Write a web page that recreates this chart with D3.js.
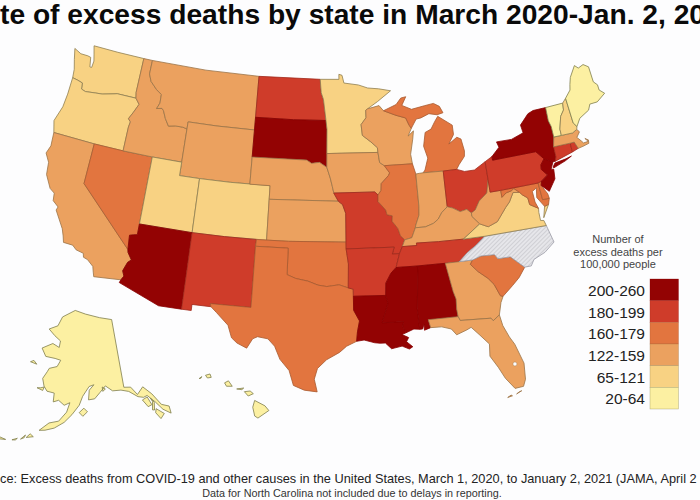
<!DOCTYPE html>
<html>
<head>
<meta charset="utf-8">
<script src="https://cdn.jsdelivr.net/npm/d3@7"></script>
<style>
html, body { margin: 0; padding: 0; background: #fdfdfe; overflow: hidden; }
text { font-family: "Liberation Sans", Arial, sans-serif; }
</style>
</head>
<body>
<svg id="chart" width="700" height="500"></svg>
<script>
// the reference is cropped at both sides, these are the parts that can be seen
var title_text = "te of excess deaths by state in March 2020-Jan. 2, 20";
var source_text = "ce: Excess deaths from COVID-19 and other causes in the United States, March 1, 2020, to January 2, 2021 (JAMA, April 2";
var note_text = "Data for North Carolina not included due to delays in reporting.";
var legend_title = ["Number of", "excess deaths per", "100,000 people"];

var legend_labels = ["200-260", "180-199", "160-179", "122-159", "65-121", "20-64"];
var legend_colors = ["#930303", "#cf3c2a", "#e2753f", "#eba15f", "#f8d283", "#fcf0a2"];
var border_colors = ["#880000", "#a02a1c", "#a85a30", "#9a7448", "#8f7f52", "#7f7d4c"];
var bin_starts = [65, 122, 160, 180, 200];

// the picture only shows bins, so each value is an estimate inside its bin
var state_ids = ["WA", "OR", "CA", "NV", "ID", "MT", "WY", "UT", "CO", "AZ", "NM", "ND", "SD", "NE", "KS", "OK", "TX", "MN", "IA", "MO", "AR", "LA", "WI", "IL", "MI", "IN", "OH", "KY", "TN", "MS", "AL", "GA", "FL", "SC", "NC", "VA", "WV", "MD", "DE", "PA", "NJ", "NY", "CT", "RI", "MA", "VT", "NH", "ME", "AK", "HI"];
var state_rates = [90, 100, 130, 170, 135, 140, 140, 95, 100, 230, 190, 195, 240, 135, 140, 165, 170, 110, 140, 185, 190, 240, 140, 170, 170, 145, 185, 150, 190, 250, 240, 150, 140, 175, null, 110, 150, 165, 160, 195, 250, 225, 190, 185, 150, 40, 90, 50, 30, 25];

var state_rings = {
    WA: [[[-124.7,48.4],[-123.9,48.15],[-123.1,48.15],[-122.75,48.1],[-122.55,47.4],[-122.35,47.4],[-122.3,47.9],[-122.5,48.4],[-122.75,49],[-120,49],[-117.03,49],[-117.04,46.42],[-116.92,45.995],[-118.98,46],[-119.3,45.93],[-120.5,45.7],[-121.2,45.65],[-122.3,45.55],[-122.75,45.65],[-122.85,46.1],[-123.4,46.2],[-124,46.27],[-124.1,46.9],[-124.4,47.6]]],
    OR: [[[-124,46.27],[-123.4,46.2],[-122.85,46.1],[-122.75,45.65],[-122.3,45.55],[-121.2,45.65],[-120.5,45.7],[-119.3,45.93],[-118.98,46],[-116.92,45.995],[-116.46,45.6],[-116.85,44.95],[-117.22,44.4],[-116.95,44.2],[-117.03,43.8],[-117.03,42],[-120,42],[-124.21,42],[-124.55,42.84],[-124.1,44],[-124,45]]],
    CA: [[[-124.21,42],[-120,42],[-120,39],[-114.63,35],[-114.57,34.8],[-114.14,34.3],[-114.43,34.08],[-114.72,33.4],[-114.52,33.03],[-114.72,32.72],[-117.12,32.53],[-117.25,32.85],[-117.4,33.25],[-118,33.65],[-118.4,33.75],[-118.5,34.03],[-119.2,34.15],[-119.6,34.42],[-120.47,34.45],[-120.65,34.9],[-120.9,35.4],[-121.9,36.6],[-121.8,36.85],[-122.4,37.2],[-122.5,37.75],[-123,38],[-123.7,38.9],[-123.85,39.8],[-124.35,40.4],[-124.1,41]]],
    NV: [[[-120,42],[-117.03,42],[-114.04,42],[-114.04,37],[-114.04,36.2],[-114.37,36.14],[-114.74,36.05],[-114.63,35],[-120,39]]],
    ID: [[[-117.03,49],[-116.05,49],[-116.05,47.97],[-115.72,47.45],[-114.95,46.93],[-114.35,46.65],[-114.32,46],[-114.56,45.56],[-114,45.65],[-113.8,45.5],[-113.45,44.95],[-113,44.45],[-112.3,44.55],[-111.5,44.55],[-111.05,44.47],[-111.05,42],[-114.04,42],[-117.03,42],[-117.03,43.8],[-116.95,44.2],[-117.22,44.4],[-116.85,44.95],[-116.46,45.6],[-116.92,45.995],[-117.04,46.42]]],
    MT: [[[-116.05,49],[-110,49],[-104.05,49],[-104.05,45.94],[-104.05,45],[-108,45],[-111.05,45],[-111.05,44.47],[-111.5,44.55],[-112.3,44.55],[-113,44.45],[-113.45,44.95],[-113.8,45.5],[-114,45.65],[-114.56,45.56],[-114.32,46],[-114.35,46.65],[-114.95,46.93],[-115.72,47.45],[-116.05,47.97]]],
    WY: [[[-111.05,45],[-108,45],[-104.05,45],[-104.05,43],[-104.05,41],[-102.05,41],[-106,41],[-109.05,41],[-111.05,41],[-111.05,42],[-111.05,44.47]]],
    UT: [[[-114.04,42],[-111.05,42],[-111.05,41],[-109.05,41],[-109.05,37],[-114.04,37]]],
    CO: [[[-109.05,41],[-106,41],[-102.05,41],[-102.05,40],[-102.05,37],[-106,37],[-109.05,37]]],
    AZ: [[[-114.04,37],[-109.05,37],[-109.05,31.33],[-111.07,31.33],[-114.81,32.5],[-114.72,32.72],[-114.52,33.03],[-114.72,33.4],[-114.43,34.08],[-114.14,34.3],[-114.57,34.8],[-114.63,35],[-114.74,36.05],[-114.37,36.14],[-114.04,36.2]]],
    NM: [[[-109.05,37],[-106,37],[-103,37],[-103.04,36.5],[-103.04,32],[-106.62,32],[-106.53,31.78],[-108.2,31.78],[-108.2,31.33],[-109.05,31.33]]],
    ND: [[[-104.05,49],[-97.23,49],[-97.1,48],[-96.85,47.5],[-96.56,45.94],[-100,45.94],[-104.05,45.94]]],
    SD: [[[-104.05,45.94],[-100,45.94],[-96.56,45.94],[-96.45,45.3],[-96.45,43.5],[-96.45,42.49],[-97.2,42.85],[-98,42.77],[-98.5,43],[-104.05,43],[-104.05,45]]],
    NE: [[[-104.05,43],[-98.5,43],[-98,42.77],[-97.2,42.85],[-96.45,42.49],[-96.1,41.7],[-95.9,41.1],[-95.75,40.6],[-95.31,40],[-102.05,40],[-102.05,41],[-104.05,41]]],
    KS: [[[-102.05,40],[-95.31,40],[-94.9,39.75],[-94.61,39.11],[-94.62,37],[-100,37],[-102.05,37]]],
    OK: [[[-103,37],[-100,37],[-94.62,37],[-94.62,36.5],[-94.43,35.4],[-94.48,33.64],[-95.3,33.88],[-96.4,33.75],[-97.2,33.85],[-98.1,34.13],[-99.2,34.3],[-100,34.56],[-100,36.5],[-103.04,36.5]]],
    TX: [[[-103.04,36.5],[-100,36.5],[-100,34.56],[-99.2,34.3],[-98.1,34.13],[-97.2,33.85],[-96.4,33.75],[-95.3,33.88],[-94.48,33.64],[-94.04,33.55],[-94.04,33.02],[-94.04,31.99],[-93.55,31.2],[-93.75,30.4],[-93.84,29.7],[-94.7,29.35],[-95.3,28.9],[-96.4,28.35],[-97.15,27.7],[-97.4,26.9],[-97.15,25.96],[-98.2,26.07],[-99.1,26.4],[-99.5,27.5],[-100.3,28.3],[-100.8,29.25],[-101.4,29.77],[-102.3,29.88],[-102.7,29.7],[-103.15,28.98],[-104,29.3],[-104.5,29.65],[-104.9,30.55],[-106,31.4],[-106.53,31.78],[-106.62,32],[-103.04,32]]],
    MN: [[[-97.23,49],[-95.15,49],[-95.15,49.38],[-94.8,49.3],[-94.6,48.72],[-93,48.55],[-92,48.3],[-90.8,48.2],[-89.5,48],[-91,47.25],[-92.1,46.75],[-92.3,46.65],[-92.3,46.1],[-92.85,45.6],[-92.75,44.8],[-91.9,44.3],[-91.25,43.85],[-91.22,43.5],[-96.45,43.5],[-96.45,45.3],[-96.56,45.94],[-96.85,47.5],[-97.1,48]]],
    IA: [[[-96.45,43.5],[-91.22,43.5],[-91.1,42.75],[-90.64,42.5],[-90.15,41.95],[-90.3,41.75],[-91.05,41.2],[-91.1,40.7],[-91.42,40.38],[-91.73,40.61],[-95.75,40.6],[-95.9,41.1],[-96.1,41.7],[-96.45,42.49]]],
    MO: [[[-95.75,40.6],[-91.73,40.61],[-91.42,40.38],[-91.45,39.9],[-90.75,39.25],[-90.65,38.9],[-90.15,38.8],[-90.2,38.4],[-89.7,37.85],[-89.5,37.3],[-89.13,36.98],[-89.4,36.5],[-89.7,36],[-90.37,36],[-90.15,36.5],[-94.62,36.5],[-94.62,37],[-94.61,39.11],[-94.9,39.75],[-95.31,40]]],
    AR: [[[-94.62,36.5],[-90.15,36.5],[-90.37,36],[-89.7,36],[-90.1,35],[-90.6,34.6],[-91.1,33.9],[-91.17,33],[-94.04,33.02],[-94.04,33.55],[-94.48,33.64],[-94.43,35.4]]],
    LA: [[[-94.04,33.02],[-91.17,33],[-91,32.4],[-91.6,31],[-89.73,31],[-89.85,30.65],[-89.55,30.18],[-89.95,30.05],[-89.4,29.8],[-89.6,29.5],[-89.1,29.1],[-89.4,28.95],[-90,29.2],[-90.9,29.05],[-91.4,29.5],[-91.85,29.5],[-92.3,29.55],[-93.2,29.78],[-93.84,29.7],[-93.75,30.4],[-93.55,31.2],[-94.04,31.99]]],
    WI: [[[-92.3,46.65],[-92.1,46.75],[-90.85,46.95],[-90.4,46.55],[-89.1,46.15],[-88.1,45.9],[-87.8,45.35],[-87.6,45.1],[-88,44.55],[-87.4,44.9],[-87.55,44.3],[-87.9,43.2],[-87.8,42.49],[-90.64,42.5],[-91.1,42.75],[-91.22,43.5],[-91.25,43.85],[-91.9,44.3],[-92.75,44.8],[-92.85,45.6],[-92.3,46.1]]],
    IL: [[[-90.64,42.5],[-87.8,42.49],[-87.55,41.72],[-87.53,39.35],[-87.6,38.7],[-87.98,38],[-88.05,37.8],[-88.45,37.1],[-89.13,36.98],[-89.5,37.3],[-89.7,37.85],[-90.2,38.4],[-90.15,38.8],[-90.65,38.9],[-90.75,39.25],[-91.45,39.9],[-91.42,40.38],[-91.1,40.7],[-91.05,41.2],[-90.3,41.75],[-90.15,41.95]]],
    MI: [[[-86.82,41.76],[-84.8,41.73],[-83.45,41.73],[-83.15,42.05],[-82.5,42.6],[-82.42,43],[-82.6,43.9],[-83,44.07],[-83.9,43.65],[-83.3,44.3],[-83.3,45],[-84.7,45.78],[-85.1,45.4],[-85.55,44.9],[-86.2,44.7],[-86.5,43.7],[-86.2,42.8],[-86.6,41.95]],
        [[-90.4,46.55],[-89,46.95],[-88.45,47.4],[-87.9,47.47],[-88.4,46.85],[-87.4,46.5],[-86,46.67],[-85,46.77],[-84.4,46.5],[-84.1,46],[-84.75,45.9],[-85.6,46.05],[-86.5,45.8],[-87,45.75],[-87.6,45.1],[-87.8,45.35],[-88.1,45.9],[-89.1,46.15]]],
    IN: [[[-87.55,41.72],[-87.2,41.75],[-86.82,41.76],[-84.8,41.73],[-84.82,39.1],[-85.4,38.73],[-85.8,38.28],[-86.3,38],[-87.1,37.8],[-88.05,37.8],[-87.98,38],[-87.6,38.7],[-87.53,39.35]]],
    OH: [[[-84.8,41.73],[-83.45,41.73],[-82.7,41.5],[-81.7,41.5],[-80.52,41.98],[-80.52,40.64],[-80.85,39.7],[-81.7,39.2],[-82.2,38.6],[-82.6,38.42],[-83,38.73],[-83.65,38.63],[-84.3,38.95],[-84.82,39.1]]],
    KY: [[[-89.4,36.5],[-88.05,36.5],[-88.07,36.68],[-86,36.63],[-83.68,36.6],[-81.97,37.54],[-82.6,38.17],[-82.6,38.42],[-83,38.73],[-83.65,38.63],[-84.3,38.95],[-84.82,39.1],[-85.4,38.73],[-85.8,38.28],[-86.3,38],[-87.1,37.8],[-88.05,37.8],[-88.45,37.1],[-89.13,36.98]]],
    TN: [[[-90.1,35],[-88.2,35],[-85.6,35],[-84.32,35],[-83.5,35.57],[-82.6,36.03],[-81.68,36.59],[-83.68,36.6],[-86,36.63],[-88.07,36.68],[-88.05,36.5],[-89.4,36.5],[-89.7,36]]],
    MS: [[[-90.1,35],[-88.2,35],[-88.1,34.9],[-88.47,31.9],[-88.4,30.35],[-88.9,30.4],[-89.55,30.18],[-89.85,30.65],[-89.73,31],[-91.6,31],[-91,32.4],[-91.17,33],[-91.1,33.9],[-90.6,34.6]]],
    AL: [[[-88.2,35],[-85.6,35],[-85.18,32.87],[-85,32.3],[-85.05,31.55],[-85,31],[-87.6,31],[-87.45,30.4],[-88,30.25],[-88,30.7],[-88.15,30.35],[-88.4,30.35],[-88.47,31.9],[-88.1,34.9]]],
    GA: [[[-85.6,35],[-84.32,35],[-83.1,35],[-83.35,34.7],[-82.75,34.1],[-81.95,33.5],[-81.5,33],[-81.1,32.1],[-80.88,32.03],[-81.15,31.6],[-81.45,30.72],[-82.05,30.36],[-82.2,30.57],[-84.86,30.7],[-85,31],[-85.05,31.55],[-85,32.3],[-85.18,32.87]]],
    FL: [[[-87.6,31],[-85,31],[-84.86,30.7],[-82.2,30.57],[-82.05,30.36],[-81.45,30.72],[-81.3,29.9],[-80.9,29],[-80.55,28.4],[-80.05,26.9],[-80.15,25.7],[-80.4,25.2],[-81.1,25.15],[-81.75,26],[-82.2,26.9],[-82.75,27.8],[-82.65,28.7],[-83.4,29.5],[-84,30.1],[-84.4,29.95],[-85.3,29.68],[-85.7,30.15],[-86.5,30.38],[-87.45,30.4]],
        [[-81.8,24.56],[-81.4,24.63],[-81.5,24.7]],
        [[-81.05,24.72],[-80.6,24.9],[-80.8,24.85]]],
    SC: [[[-83.1,35],[-82.3,35.2],[-81.05,35.15],[-80.8,34.82],[-79.67,34.8],[-78.55,33.87],[-79.2,33.2],[-79.9,32.7],[-80.88,32.03],[-81.1,32.1],[-81.5,33],[-81.95,33.5],[-82.75,34.1],[-83.35,34.7]]],
    NC: [[[-81.68,36.59],[-75.87,36.55],[-75.5,35.25],[-76.5,34.65],[-77.6,34.3],[-77.95,33.87],[-78.55,33.87],[-79.67,34.8],[-80.8,34.82],[-81.05,35.15],[-82.3,35.2],[-83.1,35],[-84.32,35],[-83.5,35.57],[-82.6,36.03]]],
    VA: [[[-83.68,36.6],[-81.68,36.59],[-75.87,36.55],[-76,36.95],[-76.3,37],[-76.3,37.6],[-76.25,37.9],[-77,38.3],[-77.05,38.8],[-77.5,39.1],[-77.72,39.32],[-78.35,39.4],[-78.85,38.77],[-79.3,38.42],[-80.3,37.5],[-81.22,37.24],[-81.97,37.54]],
        [[-75.95,37.15],[-75.24,38.03],[-75.65,37.95]]],
    WV: [[[-81.97,37.54],[-81.22,37.24],[-80.3,37.5],[-79.3,38.42],[-78.85,38.77],[-78.35,39.4],[-77.72,39.32],[-78.2,39.68],[-78.45,39.55],[-79,39.47],[-79.48,39.2],[-79.48,39.72],[-80.52,39.72],[-80.52,40.64],[-80.85,39.7],[-81.7,39.2],[-82.2,38.6],[-82.6,38.42],[-82.6,38.17]]],
    MD: [[[-79.48,39.72],[-75.79,39.72],[-75.7,38.46],[-75.05,38.45],[-75.24,38.03],[-75.65,37.95],[-76.2,38.7],[-76.05,39.4],[-76.5,39.2],[-76.45,38.4],[-76.25,37.9],[-77,38.3],[-77.05,38.8],[-77.5,39.1],[-77.72,39.32],[-78.2,39.68],[-78.45,39.55],[-79,39.47],[-79.48,39.2]]],
    DE: [[[-75.79,39.72],[-75.42,39.8],[-75.55,39.5],[-75.1,38.8],[-75.05,38.45],[-75.7,38.46]]],
    PA: [[[-80.52,41.98],[-79.76,42.27],[-79.76,42],[-75.35,42],[-74.7,41.36],[-75.13,40.98],[-75.2,40.65],[-74.72,40.15],[-75.42,39.8],[-75.79,39.72],[-79.48,39.72],[-80.52,39.72],[-80.52,40.64]]],
    NJ: [[[-74.7,41.36],[-73.9,41],[-74.25,40.5],[-74,40.45],[-74.1,39.75],[-74.9,38.95],[-75.55,39.5],[-75.42,39.8],[-74.72,40.15],[-75.2,40.65],[-75.13,40.98]]],
    NY: [[[-79.76,42.27],[-78.9,42.85],[-79.05,43.27],[-77.5,43.25],[-76.2,43.55],[-76.3,44.15],[-75.3,44.85],[-74.7,45],[-73.35,45],[-73.4,44],[-73.25,43.55],[-73.25,42.75],[-73.5,42.05],[-73.5,41.3],[-73.65,41],[-73.9,41],[-74.7,41.36],[-75.35,42],[-79.76,42]],
        [[-74.03,40.6],[-73.75,40.87],[-72.6,40.98],[-72,41.08],[-72.7,40.85],[-73.95,40.55]]],
    CT: [[[-73.5,42.05],[-71.8,42.02],[-71.8,41.35],[-73.65,41],[-73.5,41.3]]],
    RI: [[[-71.8,42.02],[-71.38,42.02],[-71.15,41.5],[-71.8,41.35]]],
    MA: [[[-73.25,42.75],[-72.46,42.73],[-71.3,42.7],[-70.8,42.87],[-70.6,42.65],[-71,42.3],[-70.65,41.95],[-70.5,41.78],[-70,41.8],[-70.25,42.07],[-69.95,41.9],[-70,41.65],[-70.65,41.55],[-71.15,41.5],[-71.38,42.02],[-71.8,42.02],[-73.5,42.05]]],
    VT: [[[-73.35,45],[-71.5,45.01],[-71.6,44.5],[-72.05,44.1],[-72.45,43.2],[-72.46,42.73],[-73.25,42.75],[-73.25,43.55],[-73.4,44]]],
    NH: [[[-71.5,45.01],[-71.08,45.3],[-70.98,43.4],[-70.7,43.07],[-70.8,42.87],[-71.3,42.7],[-72.46,42.73],[-72.45,43.2],[-72.05,44.1],[-71.6,44.5]]],
    ME: [[[-71.08,45.3],[-70.4,45.8],[-70.25,46.2],[-70,46.7],[-69.23,47.46],[-68.9,47.2],[-68.3,47.35],[-67.8,47.07],[-67.78,45.9],[-67.45,45.6],[-67.45,45.2],[-67,44.85],[-68,44.4],[-68.8,44.4],[-69.1,44],[-70.2,43.6],[-70.7,43.07],[-70.98,43.4]]],
    AK: [[[-141,69.65],[-141,60.3],[-139,60.1],[-137.5,58.9],[-135.5,59.7],[-133.5,58.4],[-131.8,56.6],[-130,56],[-130.1,55],[-131.8,55.9],[-133.2,57.2],[-134.9,58.4],[-136,58.3],[-137.5,58.6],[-139.8,59.6],[-142,60],[-144.5,60.1],[-146.5,60.9],[-148.3,60.1],[-150,59.3],[-151.8,59.2],[-151.5,60.5],[-150,61.2],[-151.5,61],[-153.5,59.7],[-154.5,58.5],[-156.5,57.2],[-158.5,56.1],[-161,55.2],[-163.3,54.75],[-164.8,54.6],[-162.5,55.8],[-160,56.2],[-158,57.5],[-157.2,58.8],[-158.8,58.4],[-160.5,59],[-162,58.7],[-162,59.9],[-164.2,60],[-165.3,60.6],[-166.1,61.6],[-165,62.6],[-164.5,63.1],[-162,63.5],[-161,64.4],[-163,64.55],[-166.3,64.6],[-168.1,65.6],[-164.5,66.5],[-162,66.1],[-161.8,67],[-164.2,67.6],[-166.8,68.35],[-163.5,69],[-162,70.3],[-156.6,71.35],[-152,70.85],[-146,70.2]],
        [[-154.5,57.5],[-153.2,58.1],[-152.2,57.6],[-153.5,57]],
        [[-136.5,58],[-135,58.2],[-134.3,57],[-135.4,56.9]],
        [[-134.2,57.9],[-133.9,57.4],[-134.5,56.3],[-134,56.2],[-133.5,57.2]],
        [[-133.5,56.3],[-131.8,55.3],[-133,54.8],[-133.9,55.8]],
        [[-147.5,60.8],[-146.6,60.5],[-147.4,60.2]],
        [[-166.2,60.3],[-165.2,60.5],[-165.5,60],[-167.3,60.2]],
        [[-171,63.4],[-168.8,63.3],[-170,63.7]],
        [[-166.9,53.9],[-166,53.6],[-167.7,53.3]],
        [[-169,52.9],[-168,53.6],[-168.2,53.2]],
        [[-171,52.5],[-169.8,52.9],[-170.2,52.6]],
        [[-174.3,52.4],[-172.5,52.3],[-174,52.1]],
        [[-175.9,52.1],[-174.9,52.3],[-175.2,52]],
        [[-177.6,51.9],[-176,51.9],[-176.2,51.7]],
        [[-178.9,51.8],[-177.9,51.9],[-178.4,51.6]]],
    HI: [[[-155.9,20.25],[-155.1,19.85],[-154.8,19.5],[-155.65,18.95],[-155.9,19.1],[-156.05,19.75]],
        [[-156.7,20.9],[-156.25,20.95],[-156,20.75],[-156.4,20.58]],
        [[-157.3,21.1],[-156.75,21.17],[-156.9,21.05]],
        [[-158.25,21.55],[-157.95,21.7],[-157.65,21.3],[-158.1,21.3]],
        [[-159.75,22.1],[-159.4,22.2],[-159.3,21.95],[-159.6,21.9]],
        [[-160.25,21.85],[-160.05,22],[-160.1,21.88]]]
};

var width = 700;
var height = 500;

var lower48 = d3.geoAlbers().scale(775).translate([325, 219]);
var alaska_base = d3.geoConicEqualArea().rotate([154, 0]).center([-2, 58.5]).parallels([55, 65]).scale(385).translate([74, 397]);
var hawaii = d3.geoConicEqualArea().rotate([157, 0]).center([-3, 19.9]).parallels([8, 18]).scale(780).translate([202, 405]);

// the reference's alaska is drawn taller than a plain conic gives
var alaska_stretch = d3.geoTransform({
    point: function(x, y) {
        this.stream.point(x, 316 + (y - 316) * 1.1);
    }
});
var alaska = {
    stream: function(output) {
        return alaska_base.stream(alaska_stretch.stream(output));
    }
};

var color = d3.scaleThreshold().domain(bin_starts).range(legend_colors.slice().reverse());
var border = d3.scaleThreshold().domain(bin_starts).range(border_colors.slice().reverse());

var svg = d3.select("#chart");
svg.append("rect").attr("width", width).attr("height", height).attr("fill", "#fdfdfe");

var hatch = svg.append("defs").append("pattern")
    .attr("id", "no_data")
    .attr("width", 3)
    .attr("height", 3)
    .attr("patternUnits", "userSpaceOnUse")
    .attr("patternTransform", "rotate(45)");
hatch.append("rect").attr("width", 3).attr("height", 3).attr("fill", "#e6e6ea");
hatch.append("rect").attr("width", 1).attr("height", 3).attr("fill", "#cfcfd4");

function projection_for(id) {
    if (id === "AK") { return alaska; }
    if (id === "HI") { return hawaii; }
    return lower48;
}

// d3 wants the outer ring clockwise, otherwise the shape fills the globe
function state_feature(id) {
    var rings = state_rings[id].map(function(ring) {
        var closed = ring.concat([ring[0]]);
        if (d3.geoArea({type: "Polygon", coordinates: [closed]}) > 2 * Math.PI) {
            closed.reverse();
        }
        return [closed];
    });
    return {type: "MultiPolygon", coordinates: rings};
}

var map = svg.append("g");
state_ids.forEach(function(id, i) {
    var path = d3.geoPath(projection_for(id));
    var has_data = state_rates[i] !== null;
    map.append("path")
        .attr("d", path(state_feature(id)))
        .attr("fill", has_data ? color(state_rates[i]) : "url(#no_data)")
        .attr("stroke", has_data ? border(state_rates[i]) : "#9a9aa6")
        .attr("stroke-width", 0.8)
        .attr("stroke-linejoin", "round");
});

// lake okeechobee
map.append("path")
    .attr("d", d3.geoPath(lower48).pointRadius(2)({type: "Point", coordinates: [-80.8, 26.95]}))
    .attr("fill", "#fdfdfe")
    .attr("stroke", "#9a7448")
    .attr("stroke-width", 0.4);

svg.append("text")
    .attr("x", 0)
    .attr("y", 23.5)
    .attr("font-size", 28.2)
    .attr("font-weight", "bold")
    .attr("fill", "#0a0a0a")
    .text(title_text);

svg.append("text")
    .attr("x", 0)
    .attr("y", 483)
    .attr("font-size", 12.75)
    .attr("fill", "#222")
    .text(source_text);

svg.append("text")
    .attr("x", 352)
    .attr("y", 497)
    .attr("text-anchor", "middle")
    .attr("font-size", 10.8)
    .attr("fill", "#333")
    .text(note_text);

svg.selectAll(".legend_title")
    .data(legend_title)
    .enter().append("text")
    .attr("x", 618)
    .attr("y", function(d, i) { return 243 + i * 12.7; })
    .attr("text-anchor", "middle")
    .attr("font-size", 11)
    .attr("fill", "#444")
    .text(function(d) { return d; });

var legend_y = d3.scaleBand().domain(legend_labels).range([279, 409]);

svg.selectAll(".legend_cell")
    .data(legend_labels)
    .enter().append("rect")
    .attr("x", 650)
    .attr("y", function(d) { return legend_y(d); })
    .attr("width", 28.5)
    .attr("height", legend_y.bandwidth())
    .attr("fill", function(d, i) { return legend_colors[i]; })
    .attr("stroke", function(d, i) { return border_colors[i]; })
    .attr("stroke-opacity", 0.5)
    .attr("stroke-width", 0.6);

svg.selectAll(".legend_label")
    .data(legend_labels)
    .enter().append("text")
    .attr("x", 645)
    .attr("y", function(d) { return legend_y(d) + legend_y.bandwidth() / 2 + 6; })
    .attr("text-anchor", "end")
    .attr("font-size", 15.5)
    .attr("fill", "#222")
    .text(function(d) { return d; });
</script>
</body>
</html>
